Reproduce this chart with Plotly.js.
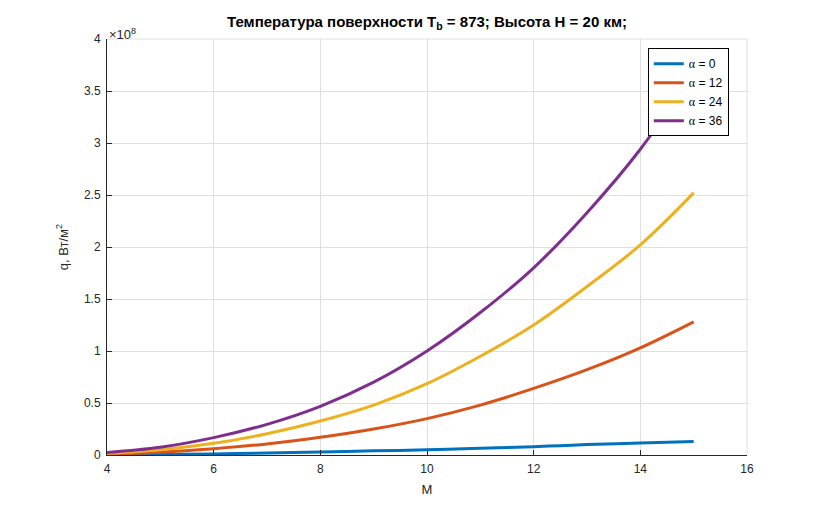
<!DOCTYPE html>
<html>
<head>
<meta charset="utf-8">
<script src="https://cdn.plot.ly/plotly-3.0.1.min.js"></script>
<style>
  html, body { margin: 0; padding: 0; background: #fff; }
  #chart { width: 825px; height: 511px; }
</style>
</head>
<body>
<div id="chart"></div>
<script>
// Mach number
var machValues = [4, 5, 6, 7, 8, 9, 10, 11, 12, 13, 14, 15];

// heat flux q, units of 1e8 W/m^2, per angle alpha
var qAlpha0  = [0.000, 0.005, 0.010, 0.020, 0.030, 0.040, 0.050, 0.065, 0.080, 0.100, 0.115, 0.130];
var qAlpha12 = [0.008, 0.027, 0.061, 0.106, 0.170, 0.250, 0.350, 0.480, 0.640, 0.820, 1.030, 1.280];
var qAlpha24 = [0.015, 0.050, 0.112, 0.205, 0.327, 0.480, 0.686, 0.950, 1.250, 1.620, 2.020, 2.520];
var qAlpha36 = [0.025, 0.075, 0.167, 0.295, 0.468, 0.700, 1.000, 1.370, 1.800, 2.330, 2.940, 3.680];

var alphaLabels = ['0', '12', '24', '36'];
var seriesColors = ['#0072BD', '#D95319', '#EDB120', '#7E2F8E'];

var xTicks = [4, 6, 8, 10, 12, 14, 16];
var yTicks = [0, 0.5, 1, 1.5, 2, 2.5, 3, 3.5, 4];

var allSeries = [qAlpha0, qAlpha12, qAlpha24, qAlpha36];

var data = allSeries.map(function(vals, i) {
    return {
        x: machValues,
        y: vals,
        type: 'scatter',
        mode: 'lines',
        name: "<span style='font-family:Liberation Serif'>α</span> = " + alphaLabels[i],
        line: { color: seriesColors[i], width: 3, shape: 'spline' }
    };
});

var axisColor = '#262626';
var gridColor = '#dfdfdf';

var layout = {
    width: 825,
    height: 511,
    paper_bgcolor: '#fff',
    plot_bgcolor: '#fff',
    font: { family: 'Liberation Sans, Arial, sans-serif', size: 12, color: axisColor },
    margin: { l: 107, r: 78, t: 39, b: 56, pad: 0 },
    title: {
        text: '<b>Температура поверхности T<sub>b</sub> = 873; Высота H = 20 км;</b>',
        font: { size: 15, color: '#000' },
        x: 0.5176, xanchor: 'center',
        y: 0.958, yanchor: 'middle'
    },
    xaxis: {
        range: [4, 16],
        tickvals: xTicks,
        ticks: 'inside',
        ticklen: 5,
        tickcolor: axisColor,
        ticklabelstandoff: 3,
        showline: true,
        linecolor: axisColor,
        linewidth: 1,
        showgrid: true,
        gridcolor: gridColor,
        zeroline: false,
        tickfont: { size: 12, color: axisColor },
        title: { text: 'M', font: { size: 13, color: axisColor }, standoff: 9 }
    },
    yaxis: {
        range: [0, 4],
        tickvals: yTicks,
        ticktext: yTicks.map(String),
        ticks: 'inside',
        ticklen: 5,
        tickcolor: axisColor,
        ticklabelstandoff: 3,
        showline: true,
        linecolor: axisColor,
        linewidth: 1,
        showgrid: true,
        gridcolor: gridColor,
        zeroline: false,
        tickfont: { size: 12, color: axisColor },
        title: { text: 'q, Вт/м<sup>2</sup>', font: { size: 13, color: axisColor }, standoff: 12 }
    },
    shapes: [
        { type: 'line', xref: 'paper', yref: 'paper', x0: 0, x1: 1, y0: 1, y1: 1, line: { color: gridColor, width: 1 } },
        { type: 'line', xref: 'paper', yref: 'paper', x0: 1, x1: 1, y0: 0, y1: 1, line: { color: gridColor, width: 1 } }
    ],
    annotations: [{
        xref: 'paper', yref: 'paper',
        x: 0, y: 1, xanchor: 'left', yanchor: 'bottom',
        text: '×10<sup>8</sup>',
        showarrow: false,
        font: { size: 13, color: axisColor },
        yshift: -5
    }],
    legend: {
        x: 0.845, y: 0.978, xanchor: 'left', yanchor: 'top',
        bgcolor: '#fff',
        bordercolor: '#000',
        borderwidth: 1,
        font: { size: 12, color: '#000' },
        tracegroupgap: 0,
        itemwidth: 30
    },
    showlegend: true
};

Plotly.newPlot('chart', data, layout, { displayModeBar: false, staticPlot: true });
</script>
</body>
</html>
